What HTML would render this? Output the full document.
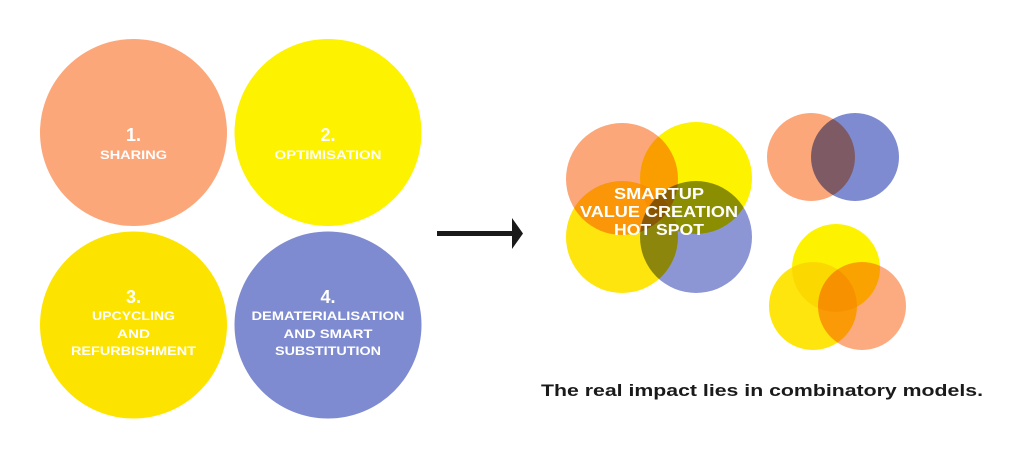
<!DOCTYPE html>
<html><head><style>
html,body{margin:0;padding:0;background:#fff;}
svg text{font-family:"Liberation Sans",sans-serif;font-weight:bold;}
</style></head><body>
<svg width="1024" height="463" viewBox="0 0 1024 463" xmlns="http://www.w3.org/2000/svg">
<rect width="1024" height="463" fill="#fff"/>
<circle cx="133.5" cy="132.5" r="93.5" fill="#fca77a"/>
<circle cx="328" cy="132.5" r="93.5" fill="#fdf200"/>
<circle cx="133.5" cy="325" r="93.5" fill="#fde400"/>
<circle cx="328" cy="325" r="93.5" fill="#7f8bd0"/>
<g fill="#fff" text-anchor="middle">
<text x="133.5" y="141" font-size="18">1.</text>
<text x="133.5" y="159" font-size="12" textLength="67" lengthAdjust="spacingAndGlyphs">SHARING</text>
<text x="328" y="141" font-size="18">2.</text>
<text x="328" y="159" font-size="12" textLength="107" lengthAdjust="spacingAndGlyphs">OPTIMISATION</text>
<text x="133.5" y="303" font-size="18">3.</text>
<text x="133.5" y="320" font-size="12" textLength="83" lengthAdjust="spacingAndGlyphs">UPCYCLING</text>
<text x="133.5" y="338" font-size="12" textLength="33" lengthAdjust="spacingAndGlyphs">AND</text>
<text x="133.5" y="355" font-size="12" textLength="125" lengthAdjust="spacingAndGlyphs">REFURBISHMENT</text>
<text x="328" y="303" font-size="18">4.</text>
<text x="328" y="320" font-size="12" textLength="153" lengthAdjust="spacingAndGlyphs">DEMATERIALISATION</text>
<text x="328" y="338" font-size="12" textLength="89" lengthAdjust="spacingAndGlyphs">AND SMART</text>
<text x="328" y="355" font-size="12" textLength="106" lengthAdjust="spacingAndGlyphs">SUBSTITUTION</text>
</g>
<rect x="437" y="231" width="78" height="5" fill="#1a1a1a"/>
<polygon points="512,218 523,233.5 512,249" fill="#1a1a1a"/>
<g style="isolation:isolate">
<circle cx="622" cy="179" r="56" fill="#fca77a" style="mix-blend-mode:multiply"/>
<circle cx="696" cy="178" r="56" fill="#fdf200" style="mix-blend-mode:multiply"/>
<circle cx="622" cy="237" r="56" fill="#fde400" style="mix-blend-mode:multiply" fill-opacity="0.95"/>
<circle cx="696" cy="237" r="56" fill="#7f8bd0" style="mix-blend-mode:multiply" fill-opacity="0.9"/>
<circle cx="811" cy="157" r="44" fill="#fca77a" style="mix-blend-mode:multiply"/>
<circle cx="855" cy="157" r="44" fill="#7f8bd0" style="mix-blend-mode:multiply"/>
<circle cx="836" cy="268" r="44" fill="#fdf200" style="mix-blend-mode:multiply"/>
<circle cx="813" cy="306" r="44" fill="#fde400" style="mix-blend-mode:multiply" fill-opacity="0.95"/>
<circle cx="862" cy="306" r="44" fill="#fca77a" style="mix-blend-mode:multiply" fill-opacity="0.95"/>
</g>
<g fill="#fff" text-anchor="middle" font-size="16">
<text x="659" y="199" textLength="90" lengthAdjust="spacingAndGlyphs">SMARTUP</text>
<text x="659" y="217" textLength="158" lengthAdjust="spacingAndGlyphs">VALUE CREATION</text>
<text x="659" y="235" textLength="90" lengthAdjust="spacingAndGlyphs">HOT SPOT</text>
</g>
<text x="762" y="396" text-anchor="middle" font-size="17" fill="#1a1a1a" textLength="442" lengthAdjust="spacingAndGlyphs">The real impact lies in combinatory models.</text>
</svg>
</body></html>
